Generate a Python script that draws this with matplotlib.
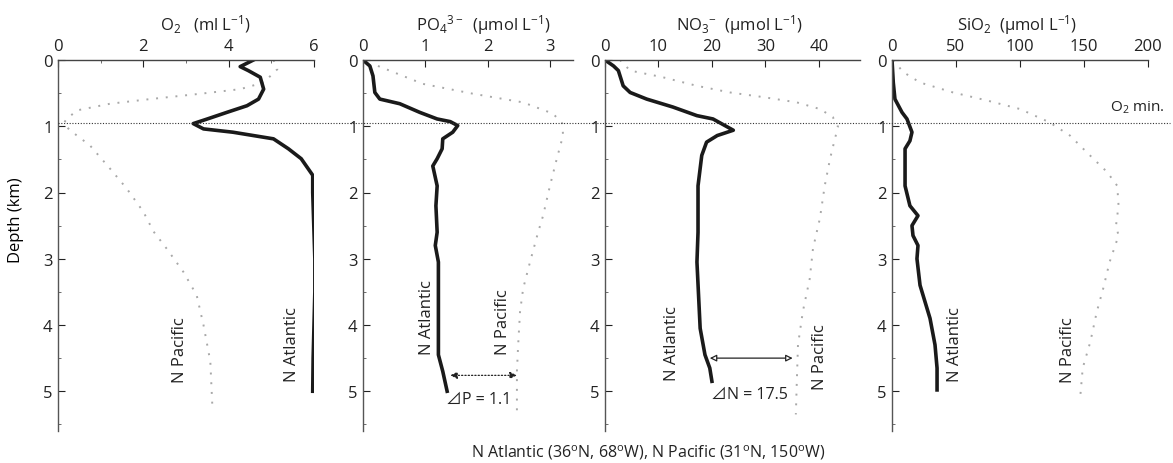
import matplotlib
matplotlib.use("Agg")
import matplotlib.pyplot as plt
from matplotlib.lines import Line2D
from matplotlib.transforms import blended_transform_factory

plt.rcParams['font.family'] = ['Open Sans', 'Noto Sans CJK JP', 'DejaVu Sans']
plt.rcParams['mathtext.fontset'] = 'custom'
plt.rcParams['mathtext.rm'] = 'Open Sans'
plt.rcParams['mathtext.it'] = 'Open Sans:italic'
plt.rcParams['mathtext.default'] = 'regular'

# O2 (ml/L) vs depth (km)
o2_atl_d = [0.0, 0.1, 0.16, 0.26, 0.44, 0.59, 0.69, 0.79, 0.89, 0.96, 1.04, 1.09, 1.19, 1.34, 1.49, 1.74, 2.0, 3.0, 3.5, 4.0, 4.5, 5.0]
o2_atl = [4.58, 4.27, 4.46, 4.74, 4.82, 4.7, 4.43, 3.96, 3.5, 3.17, 3.41, 4.1, 5.05, 5.4, 5.7, 5.97, 5.97, 6.02, 6.02, 6.0, 5.98, 5.97]
o2_pac_d = [0.0, 0.14, 0.34, 0.44, 0.51, 0.59, 0.66, 0.76, 0.89, 0.96, 1.06, 1.29, 1.64, 1.94, 2.29, 2.59, 2.85, 3.2, 3.55, 4.0, 4.55, 5.26]
o2_pac = [5.05, 5.14, 4.82, 4.27, 3.33, 2.16, 1.22, 0.45, 0.2, 0.13, 0.28, 0.75, 1.22, 1.61, 2.0, 2.24, 2.55, 2.94, 3.25, 3.41, 3.57, 3.62]

# PO4 (umol/L)
po4_atl_d = [0.0, 0.09, 0.24, 0.49, 0.59, 0.66, 0.79, 0.89, 0.93, 0.99, 1.09, 1.19, 1.34, 1.49, 1.6, 1.9, 2.2, 2.6, 2.8, 3.05, 4.45, 4.7, 5.0]
po4_atl = [0.0, 0.11, 0.16, 0.19, 0.27, 0.59, 0.91, 1.19, 1.4, 1.52, 1.44, 1.28, 1.27, 1.19, 1.12, 1.19, 1.17, 1.19, 1.16, 1.21, 1.21, 1.28, 1.35]
po4_pac_d = [0.09, 0.36, 0.51, 0.64, 0.81, 0.96, 1.14, 1.49, 1.9, 2.35, 2.6, 3.05, 3.45, 3.8, 4.3, 4.7, 5.3]
po4_pac = [0.24, 0.96, 1.77, 2.57, 3.05, 3.2, 3.21, 3.11, 3.0, 2.89, 2.81, 2.68, 2.57, 2.52, 2.49, 2.47, 2.47]

# NO3 (umol/L)
no3_atl_d = [0.0, 0.09, 0.16, 0.39, 0.49, 0.59, 0.71, 0.84, 0.89, 1.06, 1.14, 1.24, 1.44, 1.9, 2.6, 3.05, 4.05, 4.45, 4.65, 4.85]
no3_atl = [0.0, 1.6, 2.5, 3.4, 4.7, 7.8, 12.7, 17.2, 20.2, 24.0, 21.0, 19.0, 18.1, 17.4, 17.4, 17.2, 17.8, 18.7, 19.6, 20.0]
no3_pac_d = [0.0, 0.16, 0.26, 0.39, 0.49, 0.56, 0.64, 0.74, 0.86, 1.01, 1.19, 1.49, 1.9, 2.39, 2.6, 2.85, 3.3, 3.8, 4.3, 4.8, 5.35]
no3_pac = [2.8, 4.7, 10.8, 17.2, 23.4, 29.6, 35.9, 40.2, 42.6, 43.6, 43.0, 42.1, 41.1, 40.2, 39.6, 38.9, 38.3, 37.0, 36.1, 35.9, 35.7]

# SiO2 (umol/L)
si_atl_d = [0.0, 0.34, 0.59, 0.79, 0.89, 1.09, 1.22, 1.34, 1.9, 2.2, 2.35, 2.5, 2.65, 2.8, 3.0, 3.4, 3.9, 4.3, 4.65, 4.98]
si_atl = [0.0, 1.0, 2.3, 7.8, 11.7, 15.6, 14.0, 10.2, 10.2, 14.0, 20.3, 15.6, 16.4, 20.3, 19.5, 21.9, 29.7, 33.6, 35.2, 35.2]
si_pac_d = [0.0, 0.18, 0.34, 0.49, 0.61, 0.74, 0.94, 1.14, 1.39, 1.69, 1.9, 2.2, 2.5, 2.65, 3.05, 3.45, 3.8, 4.25, 4.65, 5.1]
si_pac = [1.0, 8.6, 21.9, 47.7, 74.0, 100.0, 123.0, 139.0, 152.0, 168.0, 176.0, 177.0, 175.0, 177.0, 170.0, 165.0, 160.0, 155.0, 149.0, 147.0]

titles = ["O$_2$   (ml L$^{-1}$)", "PO$_4$$^{3-}$  (μmol L$^{-1}$)",
          "NO$_3$$^{-}$  (μmol L$^{-1}$)", "SiO$_2$  (μmol L$^{-1}$)"]
xticks = [[0, 2, 4, 6], [0, 1, 2, 3], [0, 10, 20, 30, 40], [0, 50, 100, 150, 200]]
xminor = [[1, 3, 5], [], [], []]
xlims = [6.0, 3.37, 47.7, 200]
o2_min_depth = 0.95

W, H = 1173, 464
fig = plt.figure(figsize=(W / 100, H / 100), dpi=100)
lefts = [58, 363, 605, 892]
widths = [256, 210, 255, 256]
top, bot = 61, 432
axes = []
for i in range(4):
    ax = fig.add_axes([lefts[i] / W, 1 - bot / H, widths[i] / W, (bot - top) / H])
    ax.set_xlim(0, xlims[i])
    ax.set_ylim(5.6, 0)
    ax.xaxis.tick_top()
    ax.set_xticks(xticks[i])
    ax.set_xticks(xminor[i], minor=True)
    ax.set_yticks([0, 1, 2, 3, 4, 5])
    ax.set_yticks([0.5, 1.5, 2.5, 3.5, 4.5, 5.5], minor=True)
    ax.tick_params(direction='in', length=5, width=0.8, labelsize=12, pad=4, colors='#222222')
    ax.tick_params(which='minor', direction='in', length=2.5, width=0.6, colors='#555555')
    for s in ['right', 'bottom']:
        ax.spines[s].set_visible(False)
    ax.spines['left'].set_color('#555555')
    ax.spines['top'].set_color('#444444')
    ax.spines['left'].set_linewidth(1.0)
    ax.spines['top'].set_linewidth(1.0)
    axes.append(ax)

data = [(o2_atl, o2_atl_d, o2_pac, o2_pac_d),
        (po4_atl, po4_atl_d, po4_pac, po4_pac_d),
        (no3_atl, no3_atl_d, no3_pac, no3_pac_d),
        (si_atl, si_atl_d, si_pac, si_pac_d)]
for ax, (xa, da, xp, dp) in zip(axes, data):
    ax.plot(xp, dp, color='#a8a8a8', lw=1.4, ls=(0, (1, 4)))
    ax.plot(xa, da, color='#1a1a1a', lw=2.6, solid_joinstyle='round')

# O2 minimum line across all panels
tr = blended_transform_factory(fig.transFigure, axes[0].transData)
fig.add_artist(Line2D([58 / W, 1170 / W], [o2_min_depth, o2_min_depth], transform=tr,
                      color='#333333', lw=0.8, ls=(0, (1, 1.5))))
fig.text(1110 / W, 1 - 108 / H, "O$_2$ min.", fontsize=11, va='center', ha='left', color='#222222')

# titles
centers = [205, 483, 739, 1017]
for c, t in zip(centers, titles):
    fig.text(c / W, 1 - 25 / H, t, ha='center', va='center', fontsize=12, color='#222222')

fig.text(16 / W, 1 - 220 / H, "Depth (km)", rotation=90, ha='center', va='center', fontsize=12)
fig.text(648 / W, 1 - 453 / H, "N Atlantic (36$^o$N, 68$^o$W), N Pacific (31$^o$N, 150$^o$W)",
         ha='center', va='center', fontsize=11.5, color='#222222')

# series labels
labels = [(180, 350, "N Pacific"), (292, 345, "N Atlantic"),
          (427, 318, "N Atlantic"), (503, 322, "N Pacific"),
          (672, 344, "N Atlantic"), (820, 357, "N Pacific"),
          (955, 345, "N Atlantic"), (1068, 350, "N Pacific")]
for x, y, t in labels:
    fig.text(x / W, 1 - y / H, t, rotation=90, ha='center', va='center', fontsize=12, color='#222222')

# difference arrows
axes[1].annotate("", xy=(2.47, 4.76), xytext=(1.4, 4.76),
                 arrowprops=dict(arrowstyle='<|-|>', color='#222222', lw=0.9, ls=':',
                                 shrinkA=0, shrinkB=0, mutation_scale=10))
axes[1].text(1.85, 5.12, "⊿P = 1.1", ha='center', va='center', fontsize=11.5, color='#222222')
axes[2].annotate("", xy=(35.1, 4.5), xytext=(19.6, 4.5),
                 arrowprops=dict(arrowstyle='<|-|>', color='#222222', lw=0.9,
                                 shrinkA=0, shrinkB=0, mutation_scale=10, fc='white'))
axes[2].text(27.0, 5.04, "⊿N = 17.5", ha='center', va='center', fontsize=11.5, color='#222222')

fig.savefig("out.png", dpi=100)
